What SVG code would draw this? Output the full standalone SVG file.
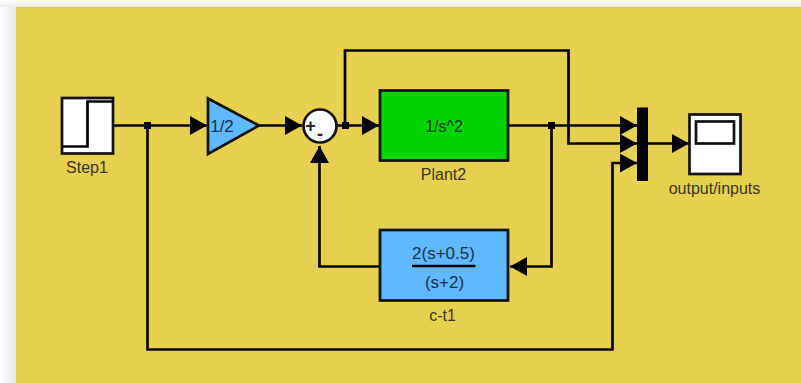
<svg xmlns="http://www.w3.org/2000/svg" width="801" height="383" viewBox="0 0 801 383">
<defs>
<style>
.w{fill:none;stroke:#000;stroke-width:2.7}
.b{stroke:#111;stroke-width:2.7}
.t{font-family:"Liberation Sans",Arial,sans-serif;font-size:16px;fill:#3a3520;text-anchor:middle}
.d{font-family:"Liberation Sans",Arial,sans-serif;font-size:17px;fill:#14304a;text-anchor:middle}
.s{font-family:"Liberation Sans",Arial,sans-serif;font-size:18px;font-weight:bold;fill:#222;text-anchor:middle}
</style>
<linearGradient id="sl" x1="0" x2="1" y1="0" y2="0"><stop offset="0" stop-color="#fff"/><stop offset="1" stop-color="#e4e4e4"/></linearGradient>
<linearGradient id="st" x1="0" x2="0" y1="0" y2="1"><stop offset="0" stop-color="#fff"/><stop offset="1" stop-color="#ececec"/></linearGradient>
<marker id="a" markerUnits="userSpaceOnUse" markerWidth="18" markerHeight="20" refX="17" refY="9.500" orient="auto"><path d="M0 0L17 9.500L0 19Z" fill="#000"/></marker>
</defs>
<rect width="801" height="383" fill="#fff"/>
<rect x="0" y="0" width="801" height="7" fill="url(#st)"/>
<rect x="0" y="7" width="16" height="376" fill="url(#sl)"/>
<rect x="16" y="7" width="785" height="376" fill="#E6D050"/>
<g id="connectors">
<path class="w" d="M114 125.500H207" marker-end="url(#a)"/>
<path class="w" d="M260 125.500H302" marker-end="url(#a)"/>
<path class="w" d="M337 125.500H379" marker-end="url(#a)"/>
<path class="w" d="M345 125.500V50.500H568.500V143.500H637" marker-end="url(#a)"/>
<path class="w" d="M509 125.500H637" marker-end="url(#a)"/>
<path class="w" d="M551.500 125.500V266.500H510" marker-end="url(#a)"/>
<path class="w" d="M379 266.500H319.500V146" marker-end="url(#a)"/>
<path class="w" d="M147.500 125.500V349.500H612.500V163H637" marker-end="url(#a)"/>
<path class="w" d="M647 143.500H689" marker-end="url(#a)"/>
<rect x="144" y="122" width="7" height="7" fill="#000"/>
<rect x="342" y="122" width="7" height="7" fill="#000"/>
<rect x="548" y="122" width="7" height="7" fill="#000"/>
</g>
<g id="step1">
<rect class="b" x="62" y="98" width="51" height="55.500" fill="#fff"/>
<path class="w" d="M62 146.500H87.500V101.500H113"/>
<text class="t" x="87" y="173">Step1</text>
</g>
<g id="gain">
<path class="b" d="M208 98.500L259 125.500L208 154Z" fill="#60B8FF"/>
<text class="d" x="222" y="132">1/2</text>
</g>
<g id="sum">
<circle class="b" cx="320" cy="126" r="16.500" fill="#fff"/>
<text class="s" x="310.500" y="132">+</text>
<text class="s" x="320" y="140">-</text>
</g>
<g id="plant2">
<rect class="b" x="380" y="90.500" width="128" height="70" fill="#00D400"/>
<text x="444" y="131.500" font-family="Liberation Sans, Arial, sans-serif" font-size="16" fill="#063a0a" text-anchor="middle">1/s^2</text>
<text class="t" x="443.500" y="180">Plant2</text>
</g>
<g id="c-t1">
<rect class="b" x="380" y="230" width="128" height="70.500" fill="#60B8FF"/>
<text class="d" x="443.500" y="258.500">2(s+0.5)</text>
<path d="M412 266H475.500" stroke="#000" stroke-width="2.700" fill="none"/>
<text class="d" x="444.500" y="287.500">(s+2)</text>
<text class="t" x="442.500" y="321">c-t1</text>
</g>
<g id="mux">
<rect x="637" y="107.500" width="11" height="73.500" fill="#000"/>
</g>
<g id="output-inputs">
<rect class="b" x="689.500" y="114.500" width="51" height="59.500" fill="#fff"/>
<rect x="696" y="121.500" width="38" height="22" fill="#fff" stroke="#111" stroke-width="2.700"/>
<text class="t" x="714.500" y="194">output/inputs</text>
</g>
</svg>
